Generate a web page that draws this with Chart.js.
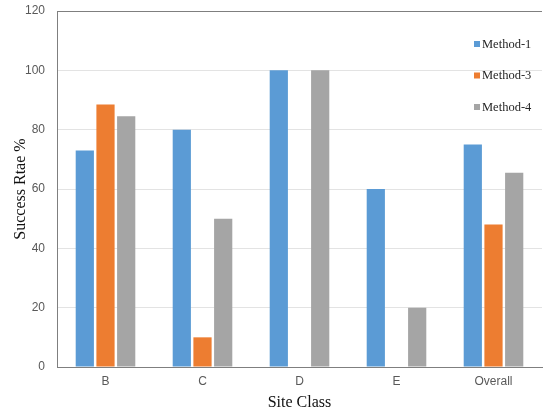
<!DOCTYPE html>
<html>
<head>
<meta charset="utf-8">
<script src="https://cdn.jsdelivr.net/npm/chart.js@4.4.1/dist/chart.umd.min.js"></script>
<style>
  html, body { margin: 0; padding: 0; background: #fff; }
</style>
</head>
<body>
<canvas id="successChart" width="543" height="414"></canvas>
<script>
// datos
const categories = ["B", "C", "D", "E", "Overall"];
const method1 = [73, 80, 100, 60, 75];
const method3 = [88.5, 10, 0, 0, 48];
const method4 = [84.5, 50, 100, 20, 65.5];
const seriesNames = ["Method-1", "Method-3", "Method-4"];
const colors = ['#5B9BD5', '#ED7D31', '#A5A5A5'];

// leyenda dentro del area del grafico, arriba a la derecha
const insideLegend = {
  id: 'insideLegend',
  afterDraw(chart) {
    const c = chart.ctx;
    const rowsY = [44, 75.5, 107];
    c.save();
    c.font = '12.5px "Liberation Serif", "Times New Roman", serif';
    c.textBaseline = 'middle';
    chart.data.datasets.forEach((ds, i) => {
      c.fillStyle = ds.backgroundColor;
      c.fillRect(474, rowsY[i] - 3, 6, 6);
      c.fillStyle = '#262626';
      c.fillText(ds.label, 482, rowsY[i] + 0.5);
    });
    c.restore();
  }
};

const ctx = document.getElementById('successChart').getContext('2d');
const chart = new Chart(ctx, {
  type: 'bar',
  data: {
    labels: categories,
    datasets: [
      { label: seriesNames[0], data: method1, backgroundColor: colors[0] },
      { label: seriesNames[1], data: method3, backgroundColor: colors[1] },
      { label: seriesNames[2], data: method4, backgroundColor: colors[2] }
    ]
  },
  options: {
    responsive: false,
    animation: false,
    layout: { padding: { top: 11, right: 1 } },
    datasets: {
      bar: { categoryPercentage: 0.64, barPercentage: 0.88 }
    },
    plugins: {
      legend: { display: false },
      tooltip: { enabled: false }
    },
    scales: {
      x: {
        grid: { display: false, drawTicks: false },
        border: { color: '#7f7f7f', width: 1 },
        ticks: {
          padding: 7,
          color: '#595959',
          font: { family: '"Liberation Sans", Arial, sans-serif', size: 12 }
        },
        title: {
          display: true,
          text: 'Site Class',
          color: '#111',
          font: { family: '"Liberation Serif", "Times New Roman", serif', size: 16 },
          padding: { top: 0, bottom: 2 }
        },
        afterFit(scale) { scale.height = 47; }
      },
      y: {
        min: 0,
        max: 120,
        ticks: {
          stepSize: 20,
          padding: 12,
          color: '#595959',
          font: { family: '"Liberation Sans", Arial, sans-serif', size: 12 }
        },
        grid: {
          drawTicks: false,
          color: c => c.tick && c.tick.value === 120 ? '#7f7f7f' : '#e3e3e3'
        },
        border: { color: '#7f7f7f', width: 1 },
        title: {
          display: true,
          text: 'Success Rtae %',
          color: '#111',
          font: { family: '"Liberation Serif", "Times New Roman", serif', size: 16 },
          padding: { top: 11, bottom: 0 }
        },
        afterFit(scale) {
          scale.width = 57;
          scale.paddingTop = 0;
          scale.paddingBottom = 0;
        }
      }
    }
  },
  plugins: [insideLegend]
});
</script>
</body>
</html>
